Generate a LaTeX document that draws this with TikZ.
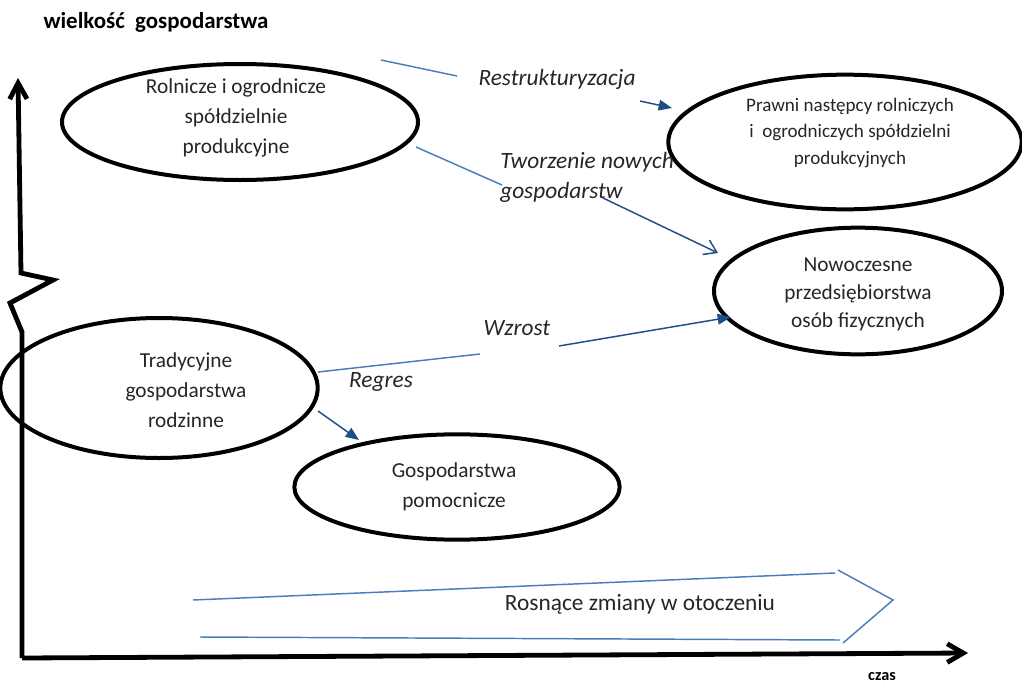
\documentclass[tikz,border=0pt]{standalone}
\usepackage{fontspec}
\setmainfont{Carlito}
\usetikzlibrary{arrows.meta,shapes.geometric}
\definecolor{lineblue}{HTML}{4A7EBB}
\definecolor{darkblue}{HTML}{1F4E86}
\definecolor{ink}{HTML}{262626}
\begin{document}
\begin{tikzpicture}[x=0.75pt,y=-0.75pt,
  oval/.style={draw=black,line width=3pt,ellipse,inner sep=0pt},
  body/.style={text=ink,align=center,font=\fontsize{16}{22.5}\selectfont,inner sep=0pt},
  small/.style={text=ink,align=center,font=\fontsize{14.3}{20}\selectfont,inner sep=0pt},
  lbl/.style={text=ink,font=\fontsize{17.5}{22.5}\selectfont\itshape,inner sep=0pt},
  axis/.style={line width=3.6pt,line join=miter,draw=black},
  lightseg/.style={draw=lineblue,line width=1.1pt},
  darkseg/.style={draw=darkblue,line width=1.1pt},
  solidhead/.style={-{Triangle[length=10pt,width=8pt]}},
  openhead/.style={-{Straight Barb[length=9pt,width=12pt,line width=1.1pt]}},
  band/.style={draw=lineblue,line width=1.1pt}
]
\useasboundingbox (0,0) rectangle (1022,686);

% axes
\coordinate (origin) at (22,658);
\coordinate (ytop) at (18,78);
\coordinate (xend) at (968,653);
\draw[axis,-{Straight Barb[length=12pt,width=13pt,line width=3.6pt]}]
  (origin) -- (22,332) -- (10,303) -- (53,280) -- (21,273) -- (ytop);
\draw[axis,-{Straight Barb[length=12pt,width=14pt,line width=3.6pt]}]
  (origin) -- (xend);
\node[font=\bfseries\fontsize{17.2}{19}\selectfont,text=black,inner sep=0pt] (ylabel) at (156,22) {wielkość\ \ gospodarstwa};
\node[font=\bfseries\fontsize{12.2}{14}\selectfont,text=black,inner sep=0pt] (xlabel) at (882,677) {czas};

% ellipses
\node[oval,minimum width=267pt,minimum height=87pt] (rol) at (240,122) {};
\node[oval,minimum width=265pt,minimum height=101pt] (praw) at (845,142) {};
\node[oval,minimum width=216pt,minimum height=95pt] (now) at (858,291) {};
\node[oval,minimum width=238pt,minimum height=105pt] (trad) at (159,388) {};
\node[oval,minimum width=244pt,minimum height=79pt] (pom) at (457,487) {};

% texts inside the ellipses
\node[body] (rolT) at (236,118) {Rolnicze i ogrodnicze\\spółdzielnie\\produkcyjne};
\node[small] (prawT) at (850,133) {Prawni następcy rolniczych\\i\ \ ogrodniczych spółdzielni\\produkcyjnych};
\node[body,font=\fontsize{16}{21}\selectfont] (nowT) at (858,294) {Nowoczesne\\przedsiębiorstwa\\osób fizycznych};
\node[body] (tradT) at (186,390) {Tradycyjne\\gospodarstwa\\rodzinne};
\node[body] (pomT) at (454,487) {Gospodarstwa\\pomocnicze};

% transition labels
\node[lbl] (lRes) at (557,79) {Restrukturyzacja};
\node[lbl,anchor=west,align=left] (lTw) at (500,177) {Tworzenie nowych\\gospodarstw};
\node[lbl] (lWz) at (517,328) {Wzrost};
\node[lbl] (lRe) at (381,382) {Regres};

% connectors, broken around their labels
\coordinate (r1) at (381,60);  \coordinate (r2) at (457,76);
\coordinate (r3) at (640,101); \coordinate (r4) at (672,108);
\draw[lightseg] (r1) -- (r2);
\draw[darkseg,solidhead] (r3) -- (r4);

\coordinate (t1) at (416,147); \coordinate (t2) at (502,185);
\coordinate (t3) at (603,198); \coordinate (t4) at (718,253);
\draw[lightseg] (t1) -- (t2);
\draw[darkseg,openhead] (t3) -- (t4);

\coordinate (w1) at (318,372); \coordinate (w2) at (480,354);
\coordinate (w3) at (559,346); \coordinate (w4) at (731,317);
\draw[lightseg] (w1) -- (w2);
\draw[darkseg,solidhead] (w3) -- (w4);

\coordinate (g1) at (318,411); \coordinate (g2) at (359,440);
\draw[darkseg,solidhead] (g1) -- (g2);

% wide outlined arrow along the time axis
\coordinate (b1) at (193,600); \coordinate (b2) at (835,573);
\coordinate (b3) at (200,637); \coordinate (b4) at (840,640);
\coordinate (h1) at (838,570); \coordinate (h2) at (893,600); \coordinate (h3) at (843,643);
\draw[band] (b1) -- (b2);
\draw[band] (b3) -- (b4);
\draw[band] (h1) -- (h2) -- (h3);
\node[text=ink,font=\fontsize{17.5}{21}\selectfont,inner sep=0pt] (env) at (640,604) {Rosnące zmiany w otoczeniu};
\end{tikzpicture}
\end{document}
